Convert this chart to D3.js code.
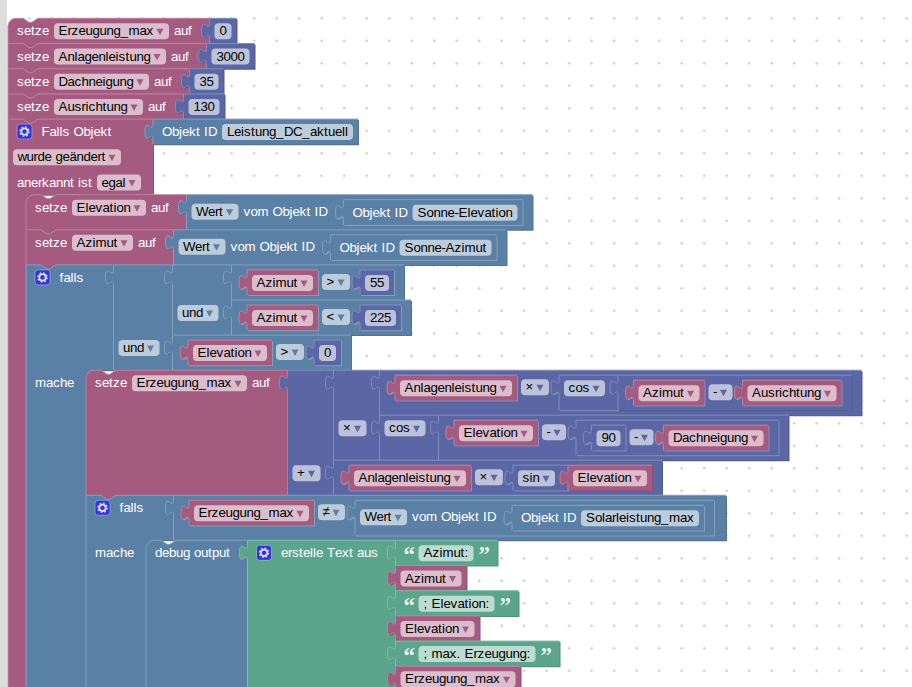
<!DOCTYPE html>
<html>
<head>
<meta charset="utf-8">
<script src="https://cdn.jsdelivr.net/npm/d3@7/dist/d3.min.js"></script>
<style>
  html, body { margin: 0; padding: 0; overflow: hidden; background: #fff; }
  svg { display: block; }
  text { font-family: "Liberation Sans", Arial, sans-serif; font-size: 13.3px; }
</style>
</head>
<body>
<svg id="chart" width="912" height="687"></svg>
<script>
// ---- values ----
const setupNames = ['Erzeugung_max', 'Anlagenleistung', 'Dachneigung', 'Ausrichtung'];
const setupValues = [0, 3000, 35, 130];
const objectIds = ['Leistung_DC_aktuell', 'Sonne-Elevation', 'Sonne-Azimut', 'Solarleistung_max'];
const debugLabels = ['Azimut:', '; Elevation:', '; max. Erzeugung:'];
const azimutLimits = [55, 225];
const elevationLimit = 0;
const rightAngle = 90;

const MAGENTA = '#a55b80', BLUE = '#5b80a5', INDIGO = '#5b67a5', GREEN = '#5ba58c';
const BASE_H = 25.2, INLINE_PAD = 9.9, BOX_H = 16;

const svg = d3.select('#chart');

// ---- text measuring: whole-pixel advances, the way the screenshot's hinted text runs ----
const probe = svg.append('text').attr('x', -500).attr('y', -500).style('font-size', '13px');
const advanceCache = new Map([['_', 8]]);
function advance(ch) {
  if (!advanceCache.has(ch)) {
    probe.text(ch === ' ' ? 'n n' : ch);
    let w = probe.node().getComputedTextLength();
    if (ch === ' ') {
      probe.text('nn');
      w -= probe.node().getComputedTextLength();
    }
    advanceCache.set(ch, Math.round(w));
  }
  return advanceCache.get(ch);
}
function textWidth(t) {
  return d3.sum([...t], advance);
}
function charXs(t, x0) {
  let cur = x0;
  return [...t].map((ch) => {
    const at = cur;
    cur += advance(ch);
    return at;
  }).join(' ');
}

// ---- block builders ----
const label = (t) => ({ type: 'label', t, w: textWidth(t) });
const drop = (t) => ({ type: 'drop', t, w: textWidth(t) + 20 });
const box = (t) => ({ type: 'box', t: String(t), w: textWidth(String(t)) + 10 });
const quote = (t) => ({ type: 'quote', t, w: 10 });
const icon = () => ({ type: 'icon', w: 15 });
const inline = (child) => ({ type: 'inline', child });
const row = (items, opts) => ({ items, ...opts });
const block = (color, rows, statement) => ({ color, rows, statement: !!statement });

const varBlock = (name) => block(MAGENTA, [row([drop(name)])]);
const numBlock = (n) => block(INDIGO, [row([box(n)])]);
const idBlock = (id) => block(BLUE, [row([label('Objekt ID'), box(id)])]);
const textBlock = (t) => block(GREEN, [row([quote('\u201c'), box(t), quote('\u201d')])]);
const getValue = (id) => block(BLUE, [row([drop('Wert'), label('vom Objekt ID'), inline(idBlock(id))])]);
const setVar = (name, value) => block(MAGENTA, [row([label('setze'), drop(name), label('auf')], { ext: value })], true);
const compare = (name, op, right) => block(BLUE, [row([inline(varBlock(name)), drop(op), inline(right)])]);
const arith = (color, left, op, right) => block(color, [row([inline(left), drop(op), inline(right)])]);
const func = (name, arg) => block(INDIGO, [row([drop(name)], { ext: arg })]);
const twoInputs = (color, op, a, b) => block(color, [row([], { ext: a }), row([drop(op)], { ext: b })]);

// ---- the program as blocks ----
const [maxName, powerName, tiltName, orientName] = setupNames;

const irradiance = twoInputs(INDIGO, '+',
  twoInputs(INDIGO, '\u00d7',
    arith(INDIGO, varBlock(powerName), '\u00d7',
      func('cos', arith(INDIGO, varBlock('Azimut'), '-', varBlock(orientName)))),
    func('cos', arith(INDIGO, varBlock('Elevation'), '-',
      arith(INDIGO, numBlock(rightAngle), '-', varBlock(tiltName))))),
  arith(INDIGO, varBlock(powerName), '\u00d7', func('sin', varBlock('Elevation'))));

const debugText = block(GREEN, [
  row([icon(), label('erstelle Text aus')], { ext: textBlock(debugLabels[0]) }),
  row([], { ext: varBlock('Azimut') }),
  row([], { ext: textBlock(debugLabels[1]) }),
  row([], { ext: varBlock('Elevation') }),
  row([], { ext: textBlock(debugLabels[2]) }),
  row([], { ext: varBlock(maxName) })
]);

const innerIf = block(BLUE, [
  row([icon(), label('falls')], {
    end: 30,
    ext: block(BLUE, [row([inline(varBlock(maxName)), drop('\u2260'), inline(getValue(objectIds[3]))], { end: 12 })])
  }),
  row([label('mache')], { stmt: [block(BLUE, [row([label('debug output')], { ext: debugText })], true)] })
], true);

const outerIf = block(BLUE, [
  row([icon(), label('falls')], {
    end: 30,
    ext: twoInputs(BLUE, 'und',
      twoInputs(BLUE, 'und',
        compare('Azimut', '>', numBlock(azimutLimits[0])),
        compare('Azimut', '<', numBlock(azimutLimits[1]))),
      compare('Elevation', '>', numBlock(elevationLimit)))
  }),
  row([label('mache')], { stmt: [setVar(maxName, irradiance), innerIf] })
], true);

const trigger = block(MAGENTA, [
  row([icon(), label('Falls Objekt')], { ext: idBlock(objectIds[0]) }),
  row([drop('wurde ge\u00e4ndert')], { end: 12 }),
  row([label('anerkannt ist'), drop('egal')], { end: 12 }),
  row([], {
    stmt: [
      setVar('Elevation', getValue(objectIds[1])),
      setVar('Azimut', getValue(objectIds[2])),
      outerIf
    ]
  })
], true);

const program = setupNames.map((n, i) => setVar(n, numBlock(setupValues[i]))).concat([trigger]);

// ---- layout ----
function gapBetween(a, b) {
  if (b.type === 'inline') return a.type === 'drop' ? 10 : 16;
  if (a.type === 'inline') return 4;
  if (a.type === 'icon') return 9.5;
  return 5;
}
function firstPad(it) {
  return { label: 9, icon: 9, drop: 5, box: 5, quote: 8, inline: 15.5 }[it.type];
}
function trailing(r) {
  if (r.end !== undefined) return r.end;
  const last = r.items[r.items.length - 1];
  if (!last) return 0;
  if (r.ext) return last.type === 'drop' ? 13 : 17.5;
  if (last.type === 'inline') return 10;
  if (last.type === 'quote') return 9;
  return 5;
}

function measure(b) {
  let bodyW = 0;
  b.rows.forEach((r) => {
    (r.ext ? [r.ext] : []).forEach(measure);
    (r.stmt || []).forEach(measure);
    let cur = 0;
    r.hasInline = false;
    r.items.forEach((it, i) => {
      if (it.type === 'inline') {
        measure(it.child);
        it.w = it.child.totalW;
        r.hasInline = true;
      }
      cur += i === 0 ? firstPad(it) : gapBetween(r.items[i - 1], it);
      it.dx = cur;
      cur += it.w;
    });
    r.fieldW = cur + trailing(r);
    r.h = BASE_H;
    if (r.hasInline) r.items.forEach((it) => { if (it.child) r.h = Math.max(r.h, it.child.h + INLINE_PAD); });
    if (r.ext) r.h = Math.max(r.h, r.ext.h);
    if (r.stmt) {
      r.fieldW = r.items.length ? cur + 12 : 18;
      r.h = d3.sum(r.stmt, (c) => c.h) + 8;
    } else {
      bodyW = Math.max(bodyW, r.fieldW);
    }
  });
  b.bodyW = bodyW;
  b.h = d3.sum(b.rows, (r) => r.h);
  b.totalW = bodyW;
  b.rows.forEach((r) => {
    if (r.ext) b.totalW = Math.max(b.totalW, bodyW + r.ext.totalW);
  });
}

const drawList = [];
function place(b, x, y, first, parentColor) {
  drawList.push({ b, x, y, first, parentColor });
  let cy = y;
  b.rows.forEach((r) => {
    r.y = cy;
    r.items.forEach((it) => {
      if (it.child) place(it.child, x + it.dx, cy + 5, false, b.color);
    });
    if (r.ext) place(r.ext, x + b.bodyW, cy, false);
    if (r.stmt) placeStack(r.stmt, x + r.fieldW, cy);
    cy += r.h;
  });
}
function placeStack(stack, x, y) {
  let cy = y;
  stack.forEach((b, i) => {
    place(b, x, cy, i === 0);
    cy += b.h;
  });
}

program.forEach(measure);
placeStack(program, 8, 18.3);

// ---- shape of one block ----
function outline(d) {
  const { b, x, y, first } = d;
  let top = '';
  if (b.statement) {
    top += first ? `M${x},${y + 8} A8,8 0 0 1 ${x + 8},${y}` : `M${x},${y}`;
    top += ` H${x + 15} l6,4 3,0 6,-4`;
  } else {
    top += `M${x},${y}`;
  }
  let body = top;
  let cy = y;
  let corners = '';
  b.rows.forEach((r) => {
    const rx = x + (r.stmt ? r.fieldW : b.bodyW);
    body += ` H${rx}`;
    // the parent keeps a filled corner behind a rounded first statement
    if (r.stmt) corners += ` M${rx},${cy} h8 v8 h-8 Z`;
    cy += r.h;
    body += ` V${cy}`;
  });
  if (b.statement) body += ` H${x + 30} l-6,4 -3,0 -6,-4`;
  body += ` H${x}`;
  if (!b.statement) {
    body += ` V${y + 20} c0,-10 -8,8 -8,-7.5 s8,2.5 8,-7.5`;
  }
  body += ' Z' + corners;
  // light edge: top and left only
  let light = top + ` H${x + (b.rows[0].stmt ? b.rows[0].fieldW : b.bodyW)}`;
  light += ` M${x},${y + b.h}`;
  if (!b.statement) light += ` V${y + 20} c0,-10 -8,8 -8,-7.5 s8,2.5 8,-7.5 V${y}`;
  else light += ` V${y + (first ? 8 : 0)}`;
  return { body, light };
}

// ---- background ----
svg.append('rect').attr('x', 0).attr('y', 0).attr('width', 7).attr('height', 687).attr('fill', '#dddddd');
const gridX = d3.range(6.7 + 22.5, 912, 22.5);
const gridY = d3.range(18.3, 687, 22.5);
svg.append('path')
  .attr('fill', 'none')
  .attr('stroke', '#cccccc')
  .attr('stroke-width', 1)
  .attr('d', gridX.flatMap((gx) => gridY.map((gy) => `M${gx - 1.5},${gy}h3M${gx},${gy - 1.5}v3`)).join(''));

// ---- blocks ----
const groups = svg.selectAll('g.block')
  .data(drawList)
  .enter()
  .append('g')
  .attr('class', 'block');

// blocks sitting in an inline hole get the hole's light rim instead of a dark shadow
groups.append('path')
  .attr('d', (d) => outline(d).body)
  .attr('transform', 'translate(1,1)')
  .attr('fill', (d) => (d.parentColor
    ? d3.interpolateRgb(d.parentColor, '#fff')(0.25)
    : d3.interpolateRgb(d.b.color, '#000')(0.12)));
groups.append('path')
  .attr('d', (d) => outline(d).body)
  .attr('fill', (d) => d.b.color);
groups.append('path')
  .attr('d', (d) => outline(d).light)
  .attr('fill', 'none')
  .attr('stroke', (d) => d3.interpolateRgb(d.b.color, '#fff')(0.25))
  .attr('stroke-width', 1);

// ---- fields ----
const fields = drawList.flatMap((d) => d.b.rows.flatMap((r) =>
  r.items.filter((it) => it.type !== 'inline').map((it) => ({
    it,
    color: d.b.color,
    x: d.x + it.dx,
    y: r.y + (r.hasInline ? 9 : 5)
  }))));

const fieldGroups = svg.selectAll('g.field')
  .data(fields)
  .enter()
  .append('g')
  .attr('class', 'field')
  .attr('transform', (d) => `translate(${d.x},${d.y})`);

fieldGroups.filter((d) => d.it.type === 'label')
  .append('text')
  .attr('x', (d) => charXs(d.it.t, 0))
  .attr('y', 12)
  .attr('fill', '#fff')
  .text((d) => d.it.t);

const boxed = fieldGroups.filter((d) => d.it.type === 'drop' || d.it.type === 'box');
boxed.append('rect')
  .attr('width', (d) => d.it.w)
  .attr('height', BOX_H)
  .attr('rx', 4)
  .attr('fill', '#fff')
  .attr('fill-opacity', 0.6);
boxed.append('text')
  .attr('x', (d) => charXs(d.it.t, d.it.type === 'box' ? 5 : 4.5))
  .attr('y', 12)
  .attr('fill', '#000')
  .text((d) => d.it.t);
fieldGroups.filter((d) => d.it.type === 'drop')
  .append('path')
  .attr('d', (d) => `M${d.it.w - 12.5},5.5 h7 l-3.5,6.5 Z`)
  .attr('fill', (d) => d.color);

fieldGroups.filter((d) => d.it.type === 'quote')
  .append('text')
  .attr('y', 17)
  .attr('fill', '#fff')
  .attr('fill-opacity', 0.9)
  .style('font-family', '"Liberation Serif", serif')
  .style('font-weight', 'bold')
  .style('font-size', '23px')
  .text((d) => d.it.t);

const icons = fieldGroups.filter((d) => d.it.type === 'icon');
icons.append('rect')
  .attr('y', 0)
  .attr('width', 15)
  .attr('height', 15)
  .attr('rx', 3)
  .attr('fill', '#3535dd')
  .attr('stroke', (d) => d3.interpolateRgb(d.color, '#fff')(0.4))
  .attr('stroke-width', 0.7);
icons.append('circle')
  .attr('cx', 7.5).attr('cy', 7.5).attr('r', 3.2)
  .attr('fill', 'none')
  .attr('stroke', '#dde')
  .attr('stroke-width', 1.8);
icons.append('circle')
  .attr('cx', 7.5).attr('cy', 7.5).attr('r', 4.6)
  .attr('fill', 'none')
  .attr('stroke', '#dde')
  .attr('stroke-width', 1.3)
  .attr('stroke-dasharray', '1.8 1.8');

probe.remove();
</script>
</body>
</html>
